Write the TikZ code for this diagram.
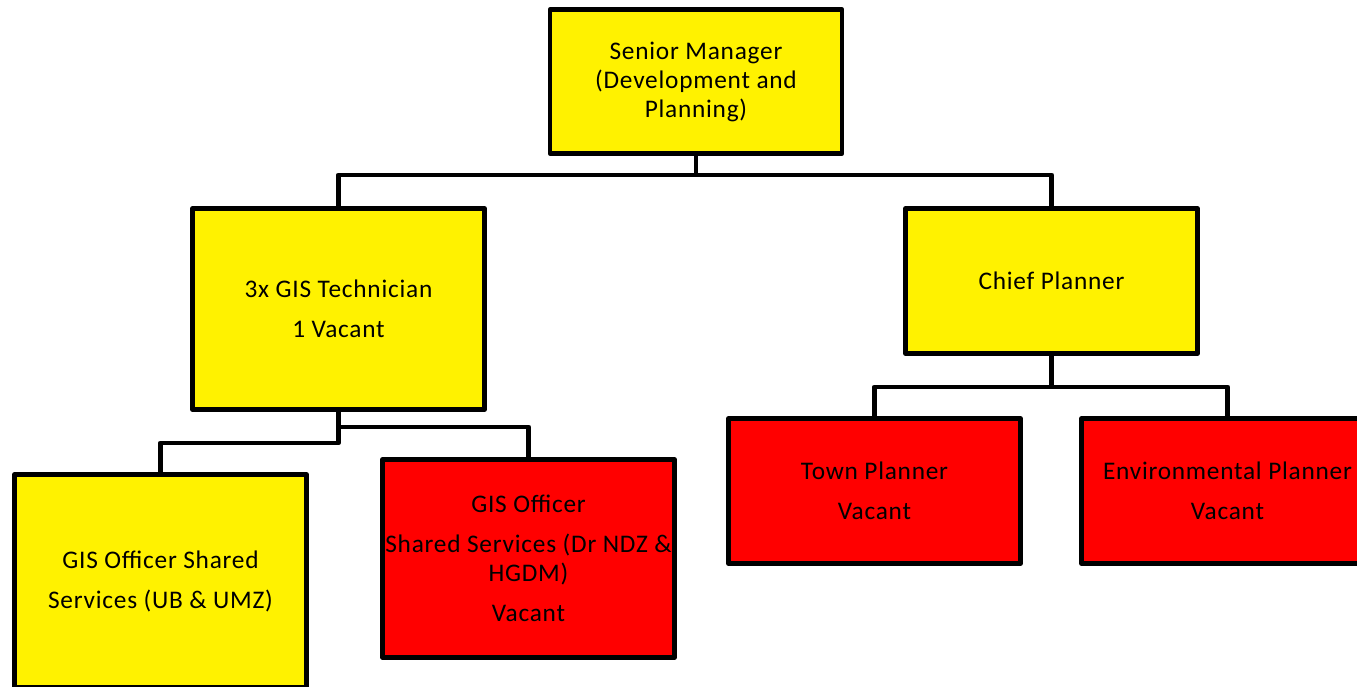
\documentclass[tikz,border=0pt]{standalone}
\usepackage{fontspec}
\setmainfont[LetterSpace=3]{Carlito}

\tikzset{
  post/.style={draw, rectangle, line width=3.6pt, line join=round, fill=yellow,
    minimum width=219pt, align=center, inner sep=2pt,
    font=\fontsize{19}{21.75}\selectfont},
  vacant/.style={post, fill=red},
  link/.style={line width=3.6pt, line join=round},
}

\begin{document}
\begin{tikzpicture}[x=0.75pt, y=-0.75pt]
  \useasboundingbox (0,0) rectangle (1357,686);
  \clip (0,0) rectangle (1357,686);

  \node[post, minimum height=108pt] (senior) at (696,81.5) {Senior Manager\\(Development and\\Planning)};
  \node[post, minimum height=150.75pt] (tech) at (338.5,309) {3x GIS Technician\\[8.25pt]1 Vacant};
  \node[post, minimum height=108.75pt] (chief) at (1051.5,281) {Chief Planner};
  \node[post, minimum height=159.75pt] (shared) at (160.5,581) {GIS Officer Shared\\[8.25pt]Services (UB \& UMZ)};
  \node[vacant, minimum height=148.5pt] (officer) at (528.5,558.5) {GIS Officer\\[8.25pt]Shared Services (Dr NDZ \&\\HGDM)\\[8.25pt]Vacant};
  \node[vacant, minimum height=108.75pt] (town) at (874.5,491) {Town Planner\\[8.25pt]Vacant};
  \node[vacant, minimum height=108.75pt] (enviro) at (1227.5,491) {Environmental Planner\\[8.25pt]Vacant};

  \draw[link] (senior.south) -- ++(0,19) coordinate (top) -| (tech.north);
  \draw[link] (top) -| (chief.north);
  \draw[link] (tech.south) -- ++(0,15) coordinate (mid) -| (officer.north);
  \draw[link] (mid) -- ++(0,16) -| (shared.north);
  \draw[link] (chief.south) -- ++(0,31) coordinate (low) -| (town.north);
  \draw[link] (low) -| (enviro.north);
\end{tikzpicture}
\end{document}
